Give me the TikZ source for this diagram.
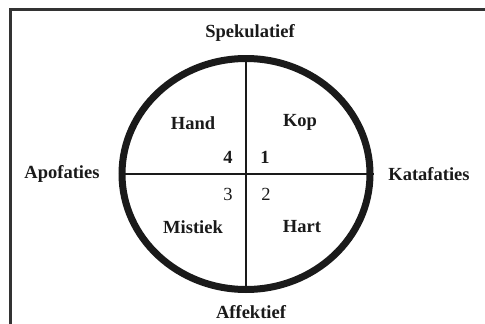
\documentclass[tikz,border=0pt]{standalone}
\usepackage{fontspec}
\setmainfont{Liberation Serif}
\usetikzlibrary{shapes.geometric}
\definecolor{ink}{HTML}{1A1A1A}
\definecolor{frame}{HTML}{333333}

\begin{document}
\begin{tikzpicture}[x=1pt, y=-1pt,
    lbl/.style={font=\fontsize{18.5}{21}\selectfont\bfseries, text=ink, inner sep=0pt},
    num/.style={font=\fontsize{18.5}{21}\selectfont, text=ink, inner sep=0pt},
    wire/.style={ink, line width=2.3pt}]
  \useasboundingbox (0,0) rectangle (485,324);

  % Page frame (only top and left edges show).
  \draw[frame, line width=2.6pt] (487,9.5) -- (10.3,9.5) -- (10.3,326);

  % The wheel and its two axes.
  \node[draw=ink, ellipse, line width=7pt, minimum width=248pt, minimum height=231pt, inner sep=0pt] (wheel) at (246,174) {};
  \draw[wire] (wheel.north) -- (wheel.south);
  \draw[wire] (wheel.west) -- (wheel.east);

  % Axis ends.
  \node[lbl] (spek) at (250,33) {Spekulatief};
  \node[lbl] (affek) at (251,312) {Affektief};
  \node[lbl] (apo) at (62,174) {Apofaties};
  \node[lbl] (kata) at (429,174) {Katafaties};

  % Quadrants.
  \node[lbl] (hand) at (193,123) {Hand};
  \node[lbl] (kop) at (300,122) {Kop};
  \node[lbl] (mist) at (193,227) {Mistiek};
  \node[lbl] (hart) at (302,227) {Hart};

  % Quadrant numbers.
  \node[lbl] (n4) at (228,157) {4};
  \node[lbl] (n1) at (265,157) {1};
  \node[num] (n3) at (228,194) {3};
  \node[num] (n2) at (266,194) {2};
\end{tikzpicture}
\end{document}
